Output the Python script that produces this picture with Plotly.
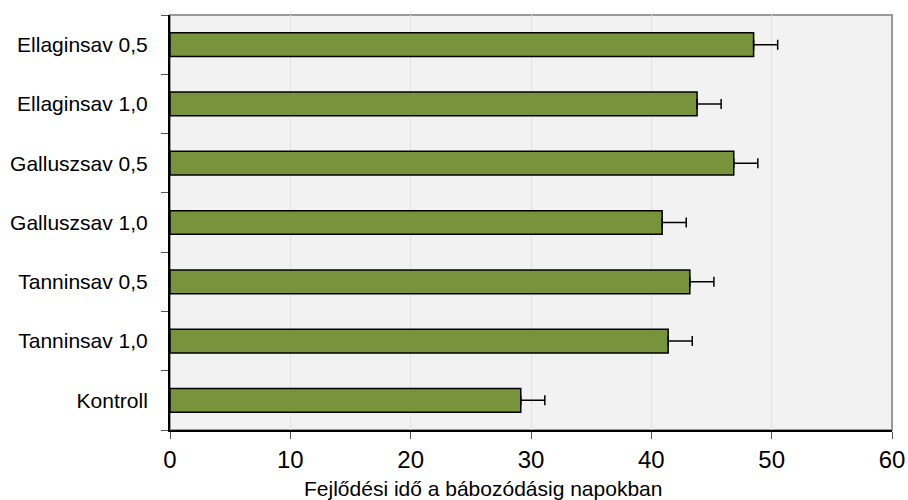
import plotly.graph_objects as go

# Treatments, listed bottom to top
categories = ["Kontroll", "Tanninsav 1,0", "Tanninsav 0,5", "Galluszsav 1,0",
              "Galluszsav 0,5", "Ellaginsav 1,0", "Ellaginsav 0,5"]
days = [29.15, 41.4, 43.2, 40.9, 46.85, 43.8, 48.5]
errors = [2.0, 2.0, 2.0, 2.0, 2.0, 2.0, 2.0]
x_ticks = [0, 10, 20, 30, 40, 50, 60]
x_title = "Fejlődési idő a bábozódásig napokban"

FONT = "Liberation Sans, Arial, sans-serif"

fig = go.Figure(
    go.Bar(
        x=days,
        y=categories,
        orientation="h",
        marker=dict(color="#77933C", line=dict(color="#000000", width=1.5)),
        error_x=dict(type="data", array=errors, arrayminus=[0] * len(errors),
                     symmetric=False, visible=True,
                     color="#000000", thickness=1.5, width=5),
        width=0.4,
    )
)

fig.update_layout(
    width=908,
    height=500,
    margin=dict(l=170, r=16, t=15, b=70),
    paper_bgcolor="#ffffff",
    plot_bgcolor="#f2f2f2",
    showlegend=False,
    font=dict(family=FONT, color="#000000"),
    shapes=[
        dict(type="rect", xref="paper", yref="paper", x0=0, x1=1, y0=0, y1=1,
             line=dict(color="#999999", width=2), layer="below"),
    ],
    annotations=[
        dict(text=x_title, xref="paper", yref="paper", x=0.433, y=-0.14,
             xanchor="center", yanchor="middle", showarrow=False,
             font=dict(size=21, family=FONT, color="#000000")),
    ],
)

fig.update_xaxes(
    range=[0, 60],
    tickvals=x_ticks,
    ticks="outside",
    ticklen=7,
    tickcolor="#555555",
    tickfont=dict(size=24, family=FONT),
    showgrid=True,
    gridcolor="#e2e2e2",
    gridwidth=1,
    showline=True,
    linecolor="#000000",
    linewidth=2,
    zeroline=False,
    automargin=False,
)

fig.update_yaxes(
    categoryorder="array",
    categoryarray=categories,
    range=[-0.5, 6.5],
    ticks="outside",
    tickson="boundaries",
    ticklen=7,
    tickcolor="#555555",
    tickfont=dict(size=21, family=FONT),
    ticklabelstandoff=16,
    showgrid=False,
    showline=True,
    linecolor="#000000",
    linewidth=2,
    zeroline=False,
    automargin=False,
)

fig.write_html("out.html")
